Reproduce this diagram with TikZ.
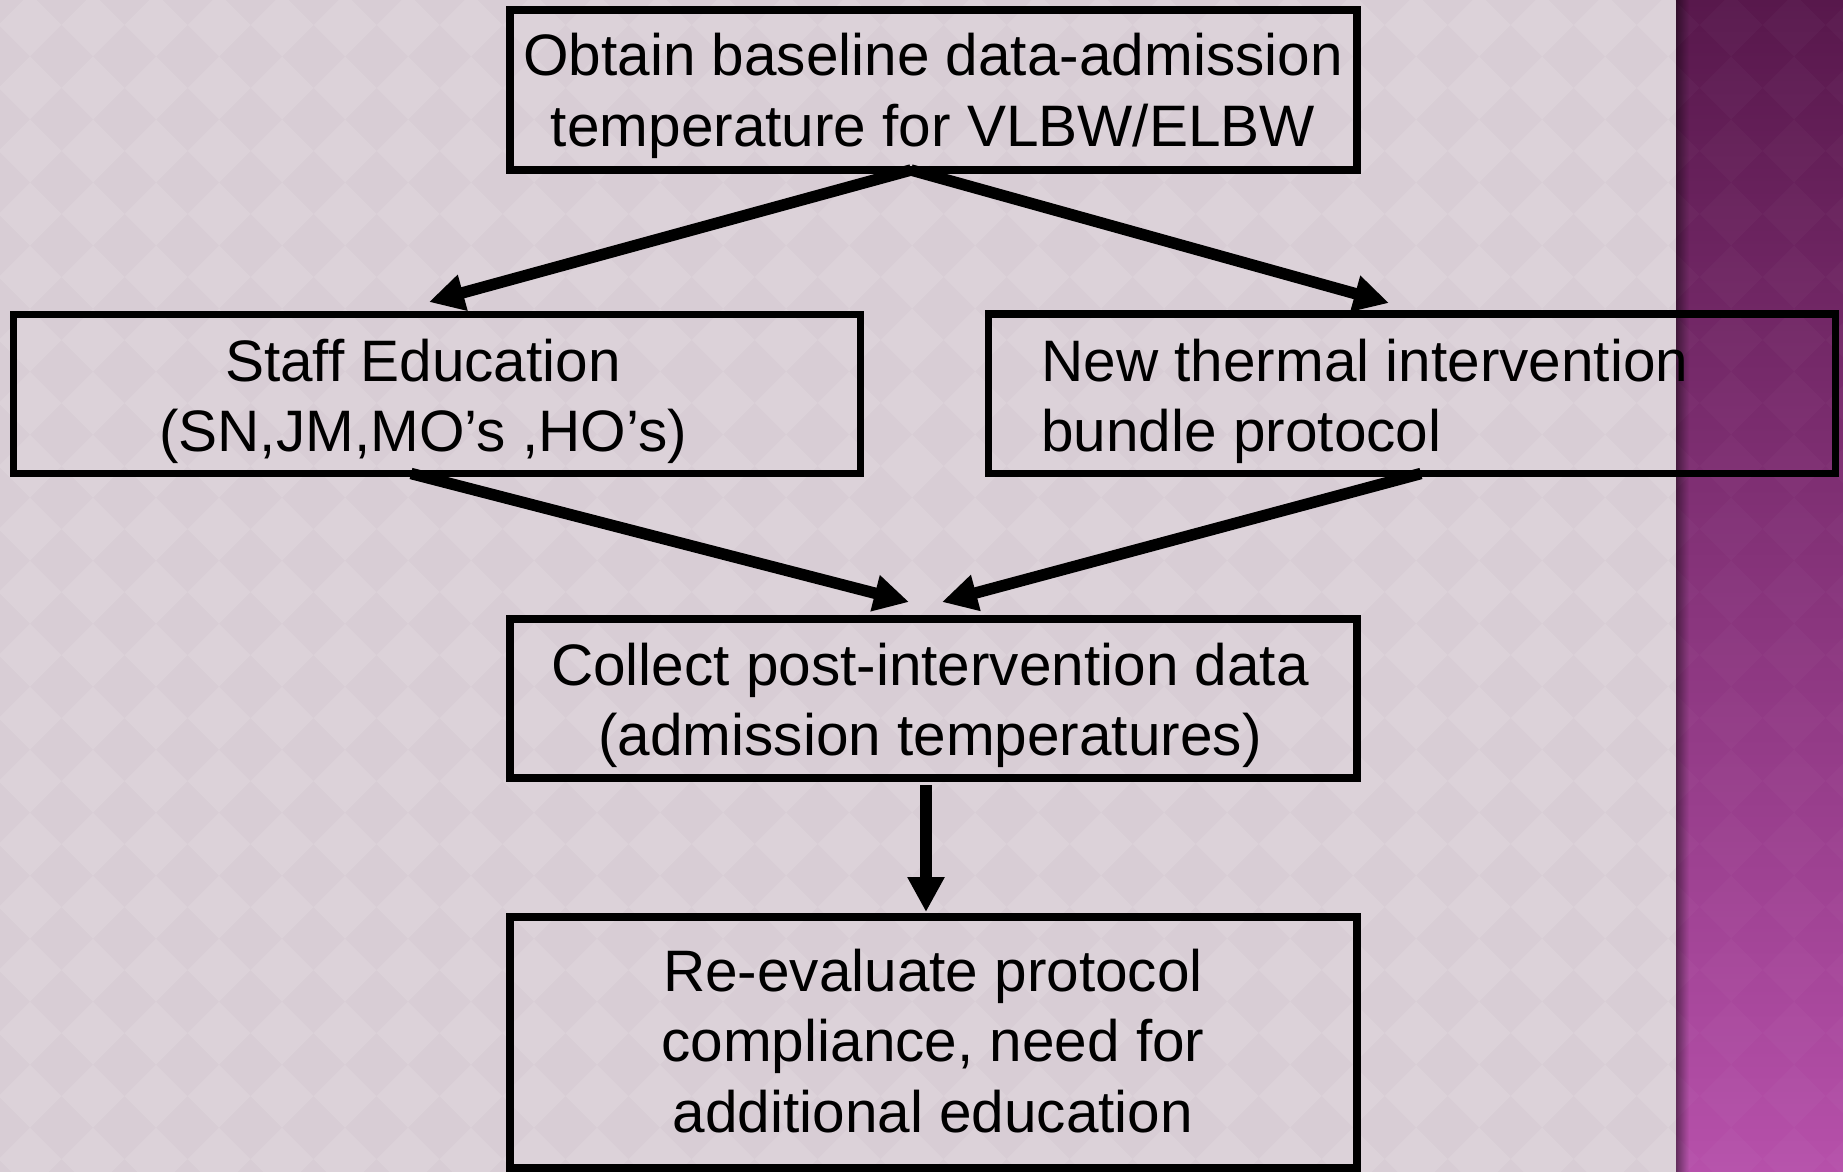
\documentclass[tikz,border=0pt]{standalone}
\usepackage{fontspec}
\setmainfont{Liberation Sans}
\usetikzlibrary{arrows.meta}
\definecolor{bgdark}{HTML}{D8CDD5}
\definecolor{bglight}{HTML}{DCD2D9}
\definecolor{bandtop}{RGB}{88,24,76}
\definecolor{bandmid}{RGB}{132,46,120}
\definecolor{bandbot}{RGB}{182,80,170}
\begin{document}
\begin{tikzpicture}[x=0.5pt,y=-0.5pt,
  box/.style={draw=black, line width=3.75pt, minimum width=423.5pt, inner sep=0pt, outer sep=0pt},
  conn/.style={line width=5.75pt, -{Triangle[length=17.5pt,width=17.5pt]}},
  txt/.style={inner sep=0pt, anchor=base, font=\fontsize{29.25pt}{35.25pt}\selectfont}]
\useasboundingbox (0,0) rectangle (1843,1172);
% background
\fill[bgdark] (0,0) rectangle (1676,1172);
\begin{scope}
\clip (0,0) rectangle (1676,1172);
\fill[bglight] \foreach \i in {0,...,27}{\foreach \j in {0,...,18}{
  (30+63*\i,25+63*\j) +(-31.5,0) -- +(0,-31.5) -- +(31.5,0) -- +(0,31.5) -- cycle}};
\end{scope}
% purple band
\shade[top color=bandtop, middle color=bandmid, bottom color=bandbot] (1676,0) rectangle (1843,1172);
\begin{scope}
\clip (1676,0) rectangle (1843,1172);
\fill[white, opacity=0.025] \foreach \i in {26,...,29}{\foreach \j in {0,...,18}{
  (30+63*\i,25+63*\j) +(-31.5,0) -- +(0,-31.5) -- +(31.5,0) -- +(0,31.5) -- cycle}};
\foreach \k [evaluate=\k as \op using 0.45-0.035*\k] in {0,...,12}
  \fill[black, opacity=\op] (1676+\k,0) rectangle (1677+\k,1172);
\end{scope}
% boxes
\node[box, minimum height=80pt] (top) at (933.5,90) {};
\node[box, minimum height=79.5pt] (staff) at (437,394) {};
\node[box, minimum height=79.75pt] (new) at (1411.75,393.75) {};
\node[box, minimum height=79.5pt] (collect) at (933.5,698.5) {};
\node[box, minimum height=125.5pt] (reeval) at (933.5,1042.5) {};
% texts
\node[txt] (toptext) at (933,76) {\parbox[t]{500pt}{\centering Obtain baseline data-admission\\temperature for VLBW/ELBW}};
\node[txt] (stafftext) at (423,381) {\parbox[t]{420pt}{\centering Staff Education\\(SN,JM,MO’s ,HO’s)}};
\node[txt, anchor=base west] (newtext) at (1041,381) {\parbox[t]{400pt}{\raggedright New thermal intervention\\bundle protocol}};
\node[txt] (collecttext) at (930,685) {\parbox[t]{500pt}{\centering Collect post-intervention data\\(admission temperatures)}};
\node[txt] (reevaltext) at (933,991) {\parbox[t]{500pt}{\centering Re-evaluate protocol\\compliance, need for\\additional education}};
% connectors
\draw[conn] ([xshift=-11.25pt]top.south) -- ([xshift=-4pt,yshift=6.25pt]staff.north);
\draw[conn] ([xshift=-11.25pt]top.south) -- ([xshift=-11.4pt,yshift=5.5pt]new.north);
\draw[conn] ([xshift=-13pt]staff.south) -- ([xshift=-12.25pt,yshift=8.5pt]collect.north);
\draw[conn] ([xshift=4.6pt]new.south) -- ([xshift=4.25pt,yshift=8.5pt]collect.north);
\draw[conn] ([xshift=-3.75pt,yshift=-3.5pt]collect.south) -- ([xshift=-3.75pt,yshift=2.5pt]reeval.north);
\end{tikzpicture}
\end{document}
